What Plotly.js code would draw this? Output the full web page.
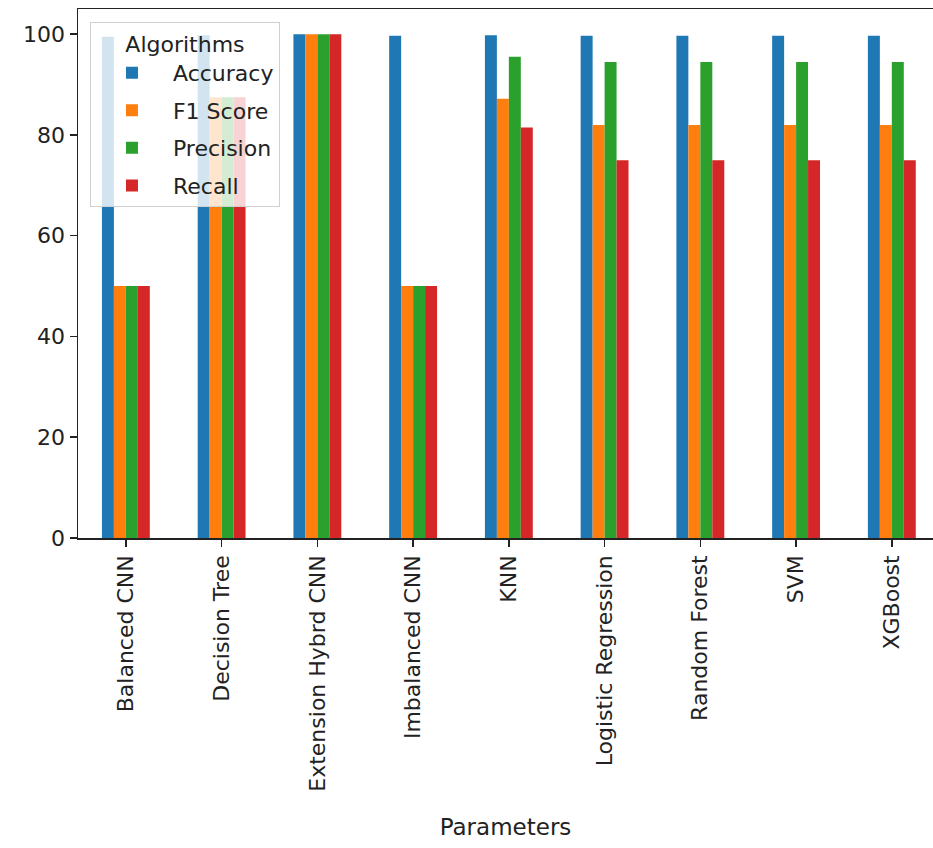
<!DOCTYPE html>
<html>
<head>
<meta charset="utf-8">
<script src="https://cdn.plot.ly/plotly-3.0.1.min.js"></script>
<style>html,body{margin:0;padding:0;background:#fff;}#chart{width:933px;height:848px;}</style>
</head>
<body>
<div id="chart"></div>
<script>
var categories = ["Balanced CNN","Decision Tree","Extension Hybrd CNN","Imbalanced CNN","KNN","Logistic Regression","Random Forest","SVM","XGBoost"];
var accuracy  = [99.5, 99.8, 100, 99.7, 99.8, 99.7, 99.7, 99.7, 99.7];
var f1Score   = [50, 87.5, 100, 50, 87.2, 82, 82, 82, 82];
var precision = [50, 87.5, 100, 50, 95.5, 94.5, 94.5, 94.5, 94.5];
var recall    = [50, 87.5, 100, 50, 81.5, 75, 75, 75, 75];
var seriesNames = ["Accuracy","F1 Score","Precision","Recall"];
var seriesColors = ["#1f77b4","#ff7f0e","#2ca02c","#d62728"];
var seriesValues = [accuracy, f1Score, precision, recall];
var yTicks = [0, 20, 40, 60, 80, 100];

var font = "DejaVu Sans, sans-serif";
var traces = seriesNames.map(function(n, i){
  return {type:"bar", name:n, x:categories, y:seriesValues[i],
          marker:{color:seriesColors[i]}, legendgroup:"g"+i};
});

var layout = {
  width:933, height:848,
  margin:{l:78, r:0, t:9, b:310},
  paper_bgcolor:"#fff", plot_bgcolor:"#fff",
  font:{family:font, size:22, color:"#222"},
  barmode:"group", bargap:0.5, bargroupgap:0,
  showlegend:true,
  legend:{
    x:0.014, y:0.975, xanchor:"left", yanchor:"top",
    bgcolor:"rgba(255,255,255,0.8)", bordercolor:"#d0d0d0", borderwidth:1,
    font:{family:font, size:22, color:"#222"},
    title:{text:"Algorithms", side:"top center", font:{family:font, size:22, color:"#222"}},
    tracegroupgap:6, itemwidth:72
  },
  xaxis:{
    type:"category", range:[-0.5, 8.43],
    showline:true, linecolor:"#222", linewidth:1.5, mirror:true,
    ticks:"outside", ticklen:7, tickwidth:1.5, tickcolor:"#222",
    tickangle:-90, showgrid:false, zeroline:false, automargin:false,
    tickfont:{family:font, size:22, color:"#222"},
    title:{text:"Parameters", standoff:28, font:{family:font, size:23, color:"#222"}}
  },
  yaxis:{
    range:[0,105], tickvals:yTicks, ticktext:yTicks.map(String),
    showline:true, linecolor:"#222", linewidth:1.5,
    ticks:"outside", ticklen:7, tickwidth:1.5, tickcolor:"#222",
    showgrid:false, zeroline:false, automargin:false,
    tickfont:{family:font, size:22, color:"#222"}
  }
};
Plotly.newPlot("chart", traces, layout, {displayModeBar:false, staticPlot:true});
</script>
</body>
</html>
